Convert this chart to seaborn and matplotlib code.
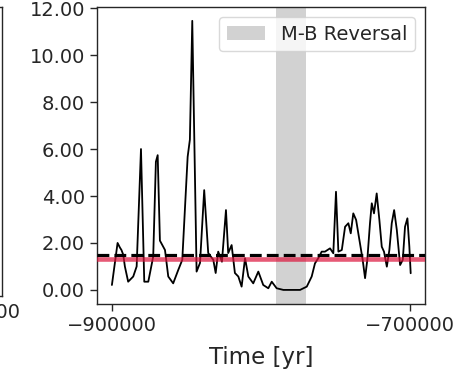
import numpy as np
import pandas as pd
import matplotlib
matplotlib.use("Agg")
import matplotlib.pyplot as plt
import seaborn as sns

# Time axis [yr] and the plotted quantity
time_yr = [
    -900000, -896200, -894600, -893600, -892400, -891300, -889100, -885700,
    -883400, -880500, -878300, -875600, -872300, -870500, -869300, -867800,
    -864400, -862200, -858900, -855500, -852800, -849200, -847700, -846100,
    -843200, -840900, -838100, -835400, -832000, -830400, -828700, -826200,
    -823500, -822000, -819700, -817500, -815200, -813000, -810700, -808500,
    -805200, -801800, -798500, -795100, -792800, -789500, -785000, -773800,
    -769300, -766000, -763800, -761500, -759300, -757100, -753700, -751500,
    -749700, -748100, -745800, -743600, -741400, -739800, -738100, -736200,
    -734000, -731800, -730200, -728700, -726900, -725700, -724200, -722400,
    -720600, -719000, -717500, -715600, -713900, -712300, -710700, -708900,
    -706700, -704900, -703400, -701800, -700500, -699600,
]
value = [
    0.21, 2.00, 1.80, 1.70, 1.50, 1.00, 0.35, 0.57,
    1.00, 6.00, 0.35, 0.35, 1.42, 5.46, 5.74, 2.10,
    1.70, 0.57, 0.28, 0.85, 1.28, 5.67, 6.40, 11.46,
    0.78, 1.15, 4.25, 1.57, 1.28, 0.72, 1.63, 1.20,
    3.40, 1.57, 1.91, 0.72, 0.57, 0.14, 1.35, 0.57,
    0.28, 0.78, 0.21, 0.07, 0.35, 0.07, 0.00, 0.00,
    0.14, 0.57, 1.13, 1.36, 1.63, 1.63, 1.77, 1.56,
    4.18, 1.63, 1.70, 2.69, 2.84, 2.41, 3.26, 2.98,
    2.13, 1.28, 0.50, 1.28, 2.84, 3.69, 3.26, 4.11,
    2.98, 1.84, 1.63, 0.99, 1.70, 2.84, 3.40, 2.55,
    1.06, 1.28, 2.69, 3.05, 1.84, 0.71,
]

reversal_span = (-790000, -770000)
dashed_level = 1.5
red_level = 1.3
x_ticks = [-900000, -700000]
y_ticks = [0, 2, 4, 6, 8, 10, 12]

df = pd.DataFrame({"Time [yr]": time_yr, "value": value})

sns.set_theme(style="ticks", context="notebook")
plt.rcParams["font.family"] = ["DejaVu Sans"]

W, H = 472, 371
fig = plt.figure(figsize=(W / 100, H / 100), dpi=100)

# neighbouring panel (only its right edge is in view)
ax0 = fig.add_axes([(2 - 328) / W, 1 - 296 / H, 328 / W, (296 - 7) / H])
ax0.set_xlim(-902500, -682500)
ax0.set_xticks([-700000])
ax0.set_yticks([])
ax0.tick_params(axis="x", labelsize=14, length=5, width=1, pad=0,
                colors="#262626")
for s in ax0.spines.values():
    s.set_color("#262626")
    s.set_linewidth(1.0)

ax = fig.add_axes([97 / W, 1 - 304 / H, (425 - 97) / W, (304 - 7) / H])
ax.axvspan(*reversal_span, color="gray", alpha=0.35, lw=0, label="M-B Reversal", zorder=1)
sns.lineplot(data=df, x="Time [yr]", y="value", ax=ax, color="black", lw=1.3, zorder=3)
ax.axhline(dashed_level, color="black", lw=2.3, ls="--", zorder=4)
ax.axhline(red_level, color="crimson", alpha=0.7, lw=3.3, zorder=4)

ax.set_xlim(-910000, -690000)
ax.set_ylim(-0.6, 12.05)
ax.set_xticks(x_ticks)
ax.set_yticks(y_ticks)
ax.set_yticklabels([f"{v:.2f}" for v in y_ticks])
ax.set_xlabel("Time [yr]", fontsize=16.5, labelpad=8, color="#262626")
ax.set_ylabel("")
ax.tick_params(labelsize=14, length=5, width=1, colors="#262626")
for s in ax.spines.values():
    s.set_color("#262626")
    s.set_linewidth(1.0)

ax.legend(loc="upper right", fontsize=14, frameon=True, fancybox=True,
          framealpha=0.8, edgecolor="#d0d0d0")

fig.savefig("out.png", dpi=100)
